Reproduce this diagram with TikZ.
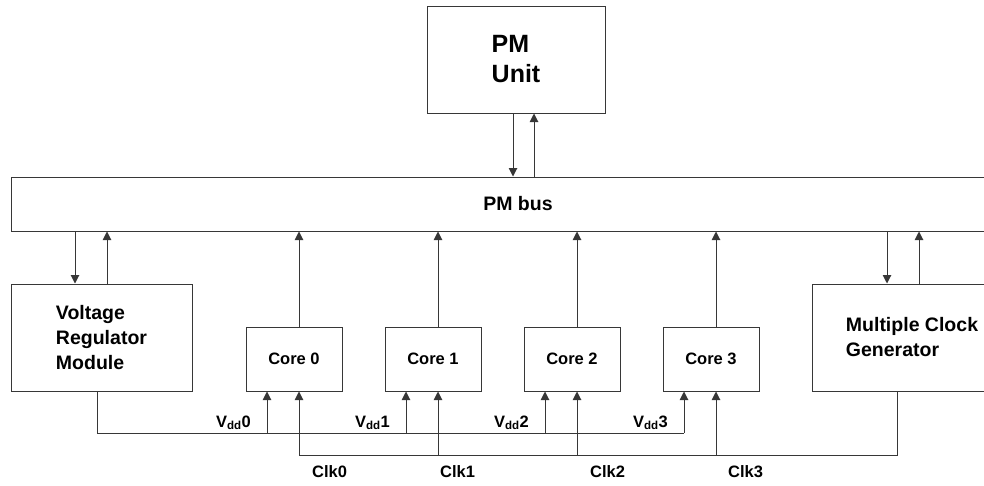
\documentclass[tikz,border=0pt]{standalone}
\usepackage{fontspec}
\setmainfont{Liberation Sans}
\usetikzlibrary{arrows.meta}
\definecolor{linegray}{RGB}{55,55,55}

\begin{document}
\begin{tikzpicture}[x=1pt, y=-1pt,
  box/.style={draw=linegray, line width=1pt, inner sep=0pt, fill=white},
  tip/.style={draw=linegray, line width=1pt, -{Triangle[length=8.5pt,width=8.5pt]}},
  wire/.style={draw=linegray, line width=1pt},
  sig/.style={inner sep=0pt, font=\bfseries\fontsize{16.5}{19}\selectfont}]
  \useasboundingbox (0,0) rectangle (984,485);
  \begin{scope}
  \clip (0,0) rectangle (984,485);
  % blocks
  \node[box, minimum width=178pt, minimum height=107pt, align=left,
        font=\bfseries\fontsize{25}{30}\selectfont] (pmu) at (516,59.5) {PM\\Unit};
  \node[box, minimum width=1014pt, minimum height=54pt,
        font=\bfseries\fontsize{19.5}{25}\selectfont] (bus) at (518,204) {PM bus};
  \node[box, minimum width=181pt, minimum height=107pt, align=left,
        font=\bfseries\fontsize{19.5}{25}\selectfont] (vrm) at (101.5,337.5)
        {Voltage\\Regulator\\Module};
  \node[box, minimum width=200pt, minimum height=107pt, align=left,
        font=\bfseries\fontsize{19.5}{25}\selectfont] (mcg) at (912,337.5)
        {Multiple Clock\\Generator};
  \foreach \i in {0,...,3} {
    \node[box, minimum width=96pt, minimum height=64pt,
          font=\bfseries\fontsize{16.5}{19}\selectfont] (core\i) at (294+139*\i,359) {Core \i};
    \coordinate (vdd\i) at (267+139*\i,433);
    \coordinate (clk\i) at (299+139*\i,455);
  }
  % PM unit <-> bus
  \draw[tip] ([xshift=-3pt]pmu.south) -- ([xshift=-3pt]pmu.south |- bus.north);
  \draw[tip] ([xshift=18pt]pmu.south |- bus.north) -- ([xshift=18pt]pmu.south);
  % regulator and clock generator <-> bus
  \draw[tip] ([xshift=-26.5pt]vrm.north |- bus.south) -- ([xshift=-26.5pt]vrm.north);
  \draw[tip] ([xshift=5.5pt]vrm.north) -- ([xshift=5.5pt]vrm.north |- bus.south);
  \draw[tip] ([xshift=-25pt]mcg.north |- bus.south) -- ([xshift=-25pt]mcg.north);
  \draw[tip] ([xshift=7pt]mcg.north) -- ([xshift=7pt]mcg.north |- bus.south);
  % supply and clock lines
  \draw[wire] ([xshift=-4.5pt]vrm.south) |- (vdd3);
  \draw[wire] ([xshift=-15pt]mcg.south) |- (clk0);
  \foreach \i in {0,...,3} {
    \draw[tip] (clk\i |- core\i.north) -- (clk\i |- bus.south);
    \draw[tip] (vdd\i) -- (vdd\i |- core\i.south);
    \draw[tip] (clk\i) -- (clk\i |- core\i.south);
    \node[sig, anchor=base east] (vddlab\i) at (251+139*\i,427) {V\textsubscript{dd}\i};
  }
  \foreach \i/\lx in {0/312, 1/440, 2/590, 3/728}
    \node[sig, anchor=base west] (clklab\i) at (\lx,477) {Clk\i};
  \end{scope}
\end{tikzpicture}
\end{document}
